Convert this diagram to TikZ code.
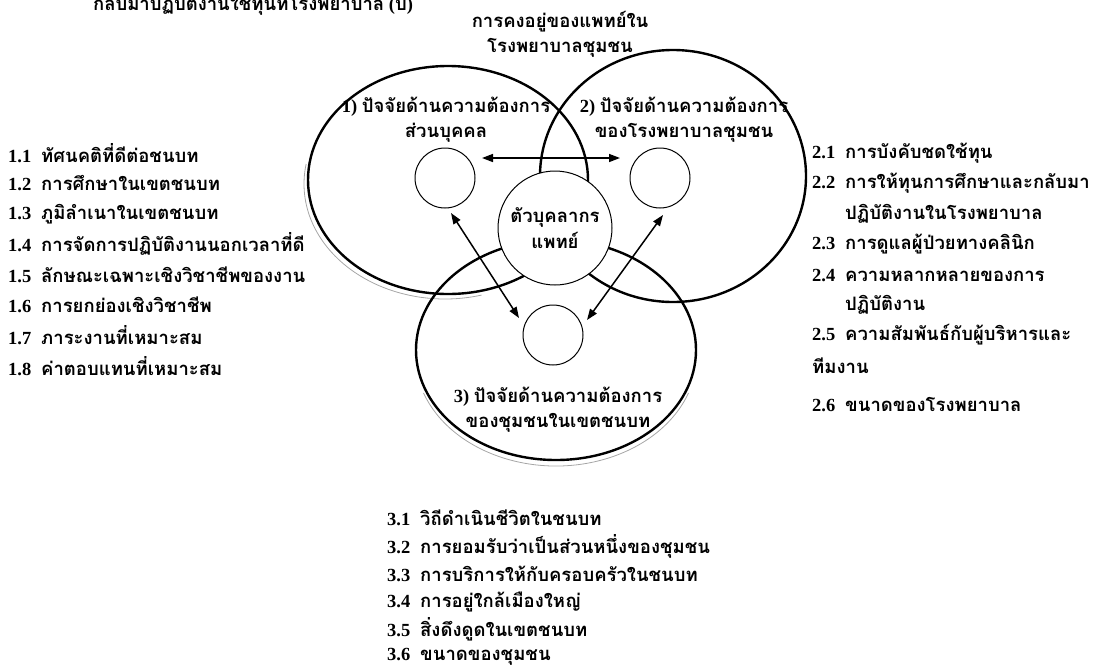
\documentclass[tikz,border=0pt]{standalone}
\usepackage{fontspec}
\setmainfont{Liberation Serif}
\newfontfamily\thaifont[Script=Thai]{Loma}
\usetikzlibrary{shapes.geometric,arrows.meta,calc}
\tikzset{
  bigring/.style={ellipse, draw, line width=2.4pt, inner sep=0pt},
  shadowarc/.style={draw=black!35, line width=0.8pt},
  hub/.style={circle, draw, fill=white, line width=1pt, minimum size=114pt, inner sep=0pt,
    font=\bfseries\fontsize{18.5}{26}\selectfont\thaifont, align=center},
  smallring/.style={circle, draw, line width=1pt, minimum size=60pt, inner sep=0pt},
  lbl/.style={font=\bfseries\fontsize{18.5}{25}\selectfont, align=center, inner sep=0pt},
  item/.style={anchor=west, font=\bfseries\fontsize{18.5}{25}\selectfont, inner sep=0pt},
  twoway/.style={{Triangle[length=11pt,width=8pt]}-{Triangle[length=11pt,width=8pt]}, line width=1.5pt}
}
\newcommand{\itm}[2]{\makebox[33pt][l]{#1}{\thaifont #2}}
\begin{document}
\begin{tikzpicture}[x=1pt,y=-1pt]
\useasboundingbox (0,0) rectangle (1107,670);
% shadows
\draw[shadowarc] (445,184) ++(190:141 and 115) arc[start angle=190, end angle=75, x radius=141, y radius=115];
\draw[shadowarc] (556,355) ++(160:141 and 111) arc[start angle=160, end angle=20, x radius=141, y radius=111];
% big rings
\node[bigring, minimum width=280pt, minimum height=228pt] (c1) at (448,180) {};
\node[bigring, minimum width=266pt, minimum height=252pt] (c2) at (673,176) {};
\node[bigring, minimum width=280pt, minimum height=220pt] (c3) at (556,350) {};
% hub
\node[hub] (hub) at (555,228) {ตัวบุคลากร\\แพทย์};
% small rings
\node[smallring] (s1) at (445,178) {};
\node[smallring] (s2) at (660,178) {};
\node[smallring] (s3) at (553,335) {};
% arrow ends
\coordinate (a1) at (482,158);
\coordinate (a2) at (620,158);
\coordinate (b1) at (451,213);
\coordinate (b2) at (519,318);
\coordinate (d1) at (663,215);
\coordinate (d2) at (587,320);
\draw[twoway] (a1) -- (a2);
\draw[twoway] (b1) -- (b2);
\draw[twoway] (d1) -- (d2);
% ring labels
\node[lbl] (l1) at (446,120) {1) {\thaifont ปัจจัยด้านความต้องการ}\\{\thaifont ส่วนบุคคล}};
\node[lbl] (l2) at (684,120) {2) {\thaifont ปัจจัยด้านความต้องการ}\\{\thaifont ของโรงพยาบาลชุมชน}};
\node[lbl] (l3) at (558,410) {3) {\thaifont ปัจจัยด้านความต้องการ}\\{\thaifont ของชุมชนในเขตชนบท}};
\node[lbl] (top) at (560,34) {{\thaifont การคงอยู่ของแพทย์ใน}\\{\thaifont โรงพยาบาลชุมชน}};
\node[lbl] (cut) at (253,3) {{\thaifont กลับมาปฏิบัติงานใช้ทุนที่โรงพยาบาล} ({\thaifont บ})};
% left list
\node[item] (i11) at (8,153) {\itm{1.1}{ทัศนคติที่ดีต่อชนบท}};
\node[item] (i12) at (8,183) {\itm{1.2}{การศึกษาในเขตชนบท}};
\node[item] (i13) at (8,214) {\itm{1.3}{ภูมิลำเนาในเขตชนบท}};
\node[item] (i14) at (8,244) {\itm{1.4}{การจัดการปฏิบัติงานนอกเวลาที่ดี}};
\node[item] (i15) at (8,275) {\itm{1.5}{ลักษณะเฉพาะเชิงวิชาชีพของงาน}};
\node[item] (i16) at (8,305) {\itm{1.6}{การยกย่องเชิงวิชาชีพ}};
\node[item] (i17) at (8,335) {\itm{1.7}{ภาระงานที่เหมาะสม}};
\node[item] (i18) at (8,366) {\itm{1.8}{ค่าตอบแทนที่เหมาะสม}};
% right list
\node[item] (i21) at (812,153) {\itm{2.1}{การบังคับชดใช้ทุน}};
\node[item] (i22) at (812,183) {\itm{2.2}{การให้ทุนการศึกษาและกลับมา}};
\node[item] (i22b) at (845,214) {\thaifont ปฏิบัติงานในโรงพยาบาล};
\node[item] (i23) at (812,244) {\itm{2.3}{การดูแลผู้ป่วยทางคลินิก}};
\node[item] (i24) at (812,275) {\itm{2.4}{ความหลากหลายของการ}};
\node[item] (i24b) at (845,305) {\thaifont ปฏิบัติงาน};
\node[item] (i25) at (812,335) {\itm{2.5}{ความสัมพันธ์กับผู้บริหารและ}};
\node[item] (i25b) at (812,366) {\thaifont ทีมงาน};
\node[item] (i26) at (812,405) {\itm{2.6}{ขนาดของโรงพยาบาล}};
% bottom list
\node[item] (i31) at (387,518) {\itm{3.1}{วิถีดำเนินชีวิตในชนบท}};
\node[item] (i32) at (387,546) {\itm{3.2}{การยอมรับว่าเป็นส่วนหนึ่งของชุมชน}};
\node[item] (i33) at (387,574) {\itm{3.3}{การบริการให้กับครอบครัวในชนบท}};
\node[item] (i34) at (387,602) {\itm{3.4}{การอยู่ใกล้เมืองใหญ่}};
\node[item] (i35) at (387,629) {\itm{3.5}{สิ่งดึงดูดในเขตชนบท}};
\node[item] (i36) at (387,657) {\itm{3.6}{ขนาดของชุมชน}};
\end{tikzpicture}
\end{document}
